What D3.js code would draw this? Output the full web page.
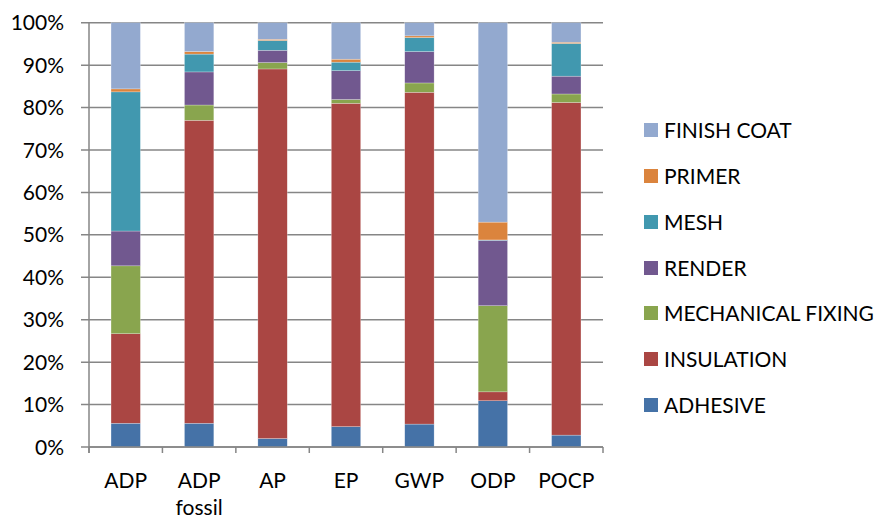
<!DOCTYPE html>
<html>
<head>
<meta charset="utf-8">
<script src="https://cdn.jsdelivr.net/npm/d3@7"></script>
<style>
  body { margin: 0; background: #fff; }
  text { font-family: Lato, "Open Sans", sans-serif; fill: #000; }
</style>
</head>
<body>
<svg id="chart" width="879" height="519"></svg>
<script>
var categories = ["ADP", "ADP fossil", "AP", "EP", "GWP", "ODP", "POCP"];

// shares in percent, bottom to top of each stack
var adhesive   = [5.6, 5.6, 2.0, 4.8, 5.4, 10.9, 2.8];
var insulation = [21.1, 71.4, 87.1, 76.2, 78.2, 2.1, 78.4];
var mechFixing = [16.0, 3.6, 1.5, 0.9, 2.2, 20.3, 2.0];
var render     = [8.2, 7.8, 2.9, 6.8, 7.4, 15.4, 4.2];
var mesh       = [32.8, 4.2, 2.3, 2.0, 3.3, 0.1, 7.7];
var primer     = [0.7, 0.6, 0.3, 0.7, 0.4, 4.2, 0.3];
var finishCoat = [15.6, 6.8, 3.9, 8.6, 3.1, 47.0, 4.6];

var seriesNames = ["ADHESIVE", "INSULATION", "MECHANICAL FIXING", "RENDER", "MESH", "PRIMER", "FINISH COAT"];
var seriesValues = [adhesive, insulation, mechFixing, render, mesh, primer, finishCoat];
var seriesColors = ["#4572A7", "#AA4643", "#89A54E", "#71588F", "#4198AF", "#DB843D", "#93A9CF"];
var yTicks = [0, 0.1, 0.2, 0.3, 0.4, 0.5, 0.6, 0.7, 0.8, 0.9, 1];

var svg = d3.select("#chart");
var plotLeft = 89, plotRight = 603, plotTop = 22.7, plotBottom = 447;

var x = d3.scaleBand().domain(categories).range([plotLeft, plotRight]).paddingInner(0.6).paddingOuter(0.3);
var y = d3.scaleLinear().domain([0, 1]).range([plotBottom, plotTop]);

// rows normalised to 100%
var rows = categories.map(function(c, i){
	var row = {cat: c};
	var tot = 0;
	seriesNames.forEach(function(s, j){ tot += seriesValues[j][i]; });
	seriesNames.forEach(function(s, j){ row[s] = seriesValues[j][i] / tot; });
	return row;
});
var stacked = d3.stack().keys(seriesNames)(rows);

var gridColor = "#868686";

// gridlines + left ticks
svg.append("g").selectAll("line").data(yTicks).join("line")
	.attr("x1", plotLeft - 8).attr("x2", plotRight)
	.attr("y1", function(d){ return y(d); }).attr("y2", function(d){ return y(d); })
	.attr("stroke", gridColor).attr("stroke-width", 1.5);

// y labels
svg.append("g").selectAll("text").data(yTicks).join("text")
	.attr("x", 64).attr("y", function(d){ return y(d); })
	.attr("dy", "0.36em").attr("text-anchor", "end")
	.style("font-size", "21px")
	.text(function(d){ return d3.format(".0%")(d); });

// bars
svg.append("g").selectAll("g").data(stacked).join("g")
	.attr("fill", function(d, i){ return seriesColors[i]; })
	.selectAll("rect").data(function(d){ return d; }).join("rect")
	.attr("x", function(d){ return x(d.data.cat); })
	.attr("width", x.bandwidth())
	.attr("y", function(d){ return y(d[1]); })
	.attr("height", function(d){ return y(d[0]) - y(d[1]); })
	.attr("stroke", "#fff").attr("stroke-width", 0.5).attr("stroke-opacity", 0.5);

// axes lines
svg.append("line").attr("x1", plotLeft).attr("x2", plotLeft).attr("y1", plotTop).attr("y2", plotBottom + 6)
	.attr("stroke", gridColor).attr("stroke-width", 1.5);
svg.append("line").attr("x1", plotLeft).attr("x2", plotRight).attr("y1", plotBottom).attr("y2", plotBottom)
	.attr("stroke", gridColor).attr("stroke-width", 1.5);

var bounds = d3.range(categories.length + 1).map(function(i){ return plotLeft + i * x.step(); });
svg.append("g").selectAll("line").data(bounds).join("line")
	.attr("x1", function(d){ return d; }).attr("x2", function(d){ return d; })
	.attr("y1", plotBottom).attr("y2", plotBottom + 6)
	.attr("stroke", gridColor).attr("stroke-width", 1.5);

// x labels
var xl = svg.append("g").selectAll("text").data(categories).join("text")
	.attr("text-anchor", "middle")
	.style("font-size", "21px")
	.attr("x", function(d){ return x(d) + x.bandwidth() / 2; });
xl.each(function(d){
	var parts = d.split(" ");
	var t = d3.select(this);
	parts.forEach(function(p, k){
		t.append("tspan").attr("x", x(d) + x.bandwidth() / 2).attr("y", 488 + k * 27).text(p);
	});
});

// legend (reverse order)
var legY = [130, 176, 222, 268, 313, 359, 405];
var legOrder = seriesNames.slice().reverse();
var lg = svg.append("g").selectAll("g").data(legOrder).join("g")
	.attr("transform", function(d, i){ return "translate(644," + legY[i] + ")"; });
lg.append("rect").attr("x", 0).attr("y", -7).attr("width", 14).attr("height", 14)
	.attr("fill", function(d){ return seriesColors[seriesNames.indexOf(d)]; });
lg.append("text").attr("x", 20).attr("dy", "0.36em")
	.style("font-size", "21px")
	.text(function(d){ return d; });
</script>
</body>
</html>
